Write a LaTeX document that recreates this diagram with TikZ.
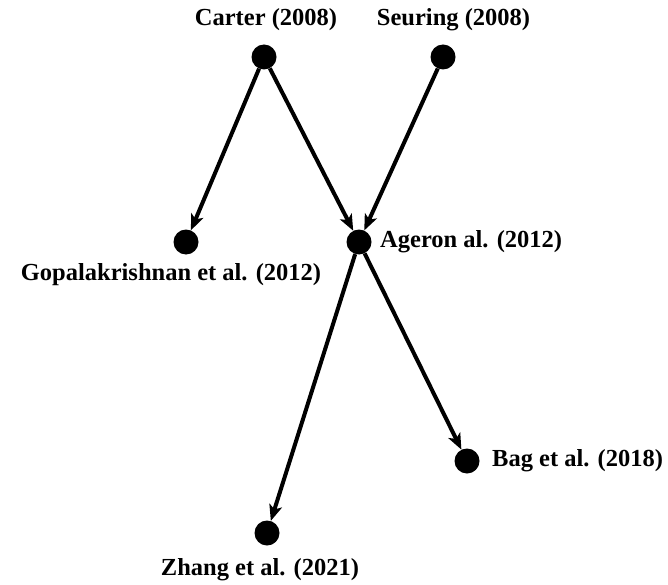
\documentclass[tikz,border=0pt]{standalone}
\usepackage{fontspec}
\setmainfont{Liberation Serif}
\usetikzlibrary{arrows.meta}
\begin{document}
\begin{tikzpicture}[x=1pt,y=-1pt,
  dot/.style={circle,fill=black,inner sep=0pt,minimum size=25pt},
  lbl/.style={font=\fontsize{24.5}{29}\selectfont\bfseries,inner sep=0pt},
  link/.style={line width=4pt,-{Stealth[length=16pt,width=13pt,inset=4pt]}}]
\useasboundingbox (0,0) rectangle (668,585);

% publications
\node[dot] (carter)  at (264,57)  {};
\node[dot] (seuring) at (443,57)  {};
\node[dot] (gopal)   at (186,242) {};
\node[dot] (ageron)  at (359,242) {};
\node[dot] (bag)     at (467,461) {};
\node[dot] (zhang)   at (267,533) {};

% captions
\node[lbl] (carterL)  at (266,20)  {Carter (2008)};
\node[lbl] (seuringL) at (453.5,20) {Seuring (2008)};
\node[lbl] (gopalL)   at (171,275) {Gopalakrishnan et al. (2012)};
\node[lbl,anchor=west] (ageronL) at (380,242) {Ageron al. (2012)};
\node[lbl,anchor=west] (bagL)    at (492,461) {Bag et al. (2018)};
\node[lbl] (zhangL)   at (260,570) {Zhang et al. (2021)};

% citation links
\draw[link] (carter)  -- (gopal);
\draw[link] (carter)  -- (ageron);
\draw[link] (seuring) -- (ageron);
\draw[link] (ageron)  -- (zhang);
\draw[link] (ageron)  -- (bag);
\end{tikzpicture}
\end{document}
